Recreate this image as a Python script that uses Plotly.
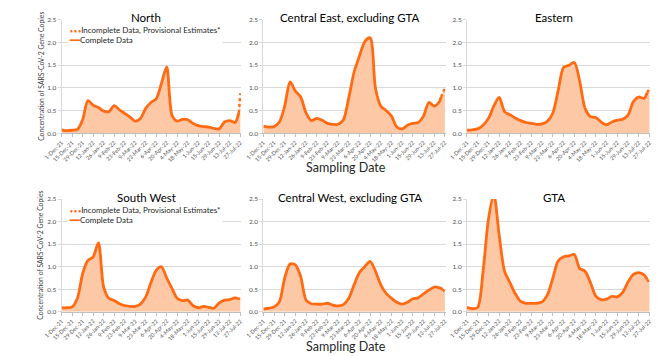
import plotly.graph_objects as go

# ---------------- data ----------------
week_dates = [
    "2021-12-01", "2021-12-08", "2021-12-15", "2021-12-22", "2021-12-29",
    "2022-01-05", "2022-01-12", "2022-01-19", "2022-01-26", "2022-02-02",
    "2022-02-09", "2022-02-16", "2022-02-23", "2022-03-02", "2022-03-09",
    "2022-03-16", "2022-03-23", "2022-03-30", "2022-04-06", "2022-04-13",
    "2022-04-20", "2022-04-27", "2022-05-04", "2022-05-11", "2022-05-18",
    "2022-05-25", "2022-06-01", "2022-06-08", "2022-06-15", "2022-06-22",
    "2022-06-29", "2022-07-06", "2022-07-13", "2022-07-20",
]

tick_dates = [
    "2021-12-01", "2021-12-15", "2021-12-29", "2022-01-12", "2022-01-26",
    "2022-02-09", "2022-02-23", "2022-03-09", "2022-03-23", "2022-04-06",
    "2022-04-20", "2022-05-04", "2022-05-18", "2022-06-01", "2022-06-15",
    "2022-06-29", "2022-07-13", "2022-07-27",
]
tick_labels = [
    "1-Dec-21", "15-Dec-21", "29-Dec-21", "12-Jan-22", "26-Jan-22",
    "9-Feb-22", "23-Feb-22", "9-Mar-22", "23-Mar-22", "6-Apr-22",
    "20-Apr-22", "4-May-22", "18-May-22", "1-Jun-22", "15-Jun-22",
    "29-Jun-22", "13-Jul-22", "27-Jul-22",
]

region_names = ["North", "Central East, excluding GTA", "Eastern",
                "South West", "Central West, excluding GTA", "GTA"]

north = [0.08, 0.06, 0.07, 0.09, 0.30, 0.72, 0.62, 0.57, 0.49, 0.48, 0.61, 0.52,
         0.44, 0.36, 0.27, 0.33, 0.55, 0.68, 0.76, 1.10, 1.46, 0.40, 0.27, 0.31,
         0.30, 0.22, 0.17, 0.15, 0.14, 0.11, 0.10, 0.25, 0.28, 0.24]
north_tail_dates = ["2022-07-25"]
north_tail = [0.45]
north_prov_dates = ["2022-07-25", "2022-07-26", "2022-07-27"]
north_prov = [0.45, 0.65, 0.88]

central_east = [0.16, 0.14, 0.15, 0.25, 0.60, 1.13, 0.93, 0.80, 0.45, 0.28, 0.33, 0.29,
                0.22, 0.20, 0.20, 0.30, 0.78, 1.35, 1.70, 2.02, 2.10, 1.00, 0.60, 0.50,
                0.38, 0.14, 0.10, 0.18, 0.22, 0.24, 0.38, 0.68, 0.60, 0.70]
central_east_tail_dates = ["2022-07-22"]
central_east_tail = [0.80]
central_east_prov_dates = ["2022-07-22", "2022-07-25", "2022-07-27"]
central_east_prov = [0.80, 0.92, 1.00]

eastern = [0.07, 0.08, 0.10, 0.18, 0.33, 0.60, 0.79, 0.48, 0.41, 0.34, 0.28, 0.24,
           0.22, 0.20, 0.21, 0.27, 0.45, 0.95, 1.45, 1.50, 1.56, 1.15, 0.55, 0.37,
           0.35, 0.25, 0.19, 0.25, 0.29, 0.31, 0.40, 0.70, 0.80, 0.77]
eastern_tail_dates = ["2022-07-24"]
eastern_tail = [0.90]
eastern_prov_dates = ["2022-07-24", "2022-07-27"]
eastern_prov = [0.90, 0.98]

south_west = [0.09, 0.09, 0.11, 0.30, 0.85, 1.14, 1.22, 1.53, 0.55, 0.30, 0.25, 0.18,
              0.14, 0.12, 0.12, 0.17, 0.33, 0.65, 0.92, 1.00, 0.75, 0.52, 0.30, 0.25,
              0.26, 0.14, 0.09, 0.12, 0.10, 0.08, 0.20, 0.26, 0.27, 0.31]
south_west_tail_dates = ["2022-07-25"]
south_west_tail = [0.29]
south_west_prov_dates = ["2022-07-25", "2022-07-27"]
south_west_prov = [0.29, 0.28]

central_west = [0.06, 0.08, 0.11, 0.22, 0.75, 1.06, 1.04, 0.78, 0.26, 0.18, 0.17, 0.17,
                0.19, 0.15, 0.13, 0.16, 0.30, 0.60, 0.87, 1.00, 1.12, 0.90, 0.60, 0.41,
                0.30, 0.21, 0.17, 0.21, 0.29, 0.31, 0.40, 0.48, 0.55, 0.53]
central_west_tail_dates = ["2022-07-24"]
central_west_tail = [0.50]
central_west_prov_dates = ["2022-07-24", "2022-07-27"]
central_west_prov = [0.50, 0.44]

gta = [0.10, 0.07, 0.10, 0.90, 2.05, 2.60, 1.70, 0.90, 0.65, 0.40, 0.23, 0.19,
       0.19, 0.19, 0.22, 0.38, 0.75, 1.13, 1.22, 1.24, 1.27, 0.96, 0.90, 0.65,
       0.35, 0.27, 0.28, 0.34, 0.33, 0.43, 0.66, 0.83, 0.87, 0.82]
gta_tail_dates = ["2022-07-24"]
gta_tail = [0.72]
gta_prov_dates = ["2022-07-24", "2022-07-27"]
gta_prov = [0.72, 0.63]

y_ticks = [0, 0.5, 1.0, 1.5, 2.0, 2.5]
y_tick_labels = ["0.0", "0.5", "1.0", "1.5", "2.0", "2.5"]

legend_incomplete = "Incomplete Data, Provisional Estimates*"
legend_complete = "Complete Data"
y_title = "Concentration of SARS-CoV-2 Gene Copies"
x_title = "Sampling Date"

# ---------------- styling / layout ----------------
LINE = "#FF6A13"
FILL = "#FCC8A6"
FONT = "Lato"
W, H = 660, 356
col_px = [(45, 230), (253, 441), (463, 652)]
row_px = [(16, 132), (199, 314)]

regions = [
    (north, north_tail_dates, north_tail, north_prov_dates, north_prov),
    (central_east, central_east_tail_dates, central_east_tail, central_east_prov_dates, central_east_prov),
    (eastern, eastern_tail_dates, eastern_tail, eastern_prov_dates, eastern_prov),
    (south_west, south_west_tail_dates, south_west_tail, south_west_prov_dates, south_west_prov),
    (central_west, central_west_tail_dates, central_west_tail, central_west_prov_dates, central_west_prov),
    (gta, gta_tail_dates, gta_tail, gta_prov_dates, gta_prov),
]

fig = go.Figure()
annotations = []

for i, (vals, tdates, tvals, pdates, pvals) in enumerate(regions):
    r, c = divmod(i, 3)
    n = i + 1
    xa = "x" if n == 1 else f"x{n}"
    ya = "y" if n == 1 else f"y{n}"
    xk = "xaxis" if n == 1 else f"xaxis{n}"
    yk = "yaxis" if n == 1 else f"yaxis{n}"

    comp_d = week_dates + tdates
    comp_v = vals + tvals
    all_d = comp_d + pdates[1:]
    all_v = comp_v + pvals[1:]

    fig.add_trace(go.Scatter(
        x=all_d, y=all_v, xaxis=xa, yaxis=ya, mode="lines",
        line=dict(width=0, shape="spline", smoothing=0.8, color=FILL),
        fill="tozeroy", fillcolor=FILL, hoverinfo="skip", showlegend=False))
    fig.add_trace(go.Scatter(
        x=pdates, y=pvals, xaxis=xa, yaxis=ya, mode="lines",
        line=dict(width=2.4, color=LINE, dash="dot", shape="spline"),
        name=legend_incomplete, showlegend=False))
    fig.add_trace(go.Scatter(
        x=comp_d, y=comp_v, xaxis=xa, yaxis=ya, mode="lines",
        line=dict(width=2.8, color=LINE, shape="spline", smoothing=0.8),
        name=legend_complete, showlegend=False))

    x0, x1 = col_px[c]
    y0, y1 = row_px[r]
    fig.layout[xk] = dict(
        domain=[x0 / W, x1 / W], anchor=ya, type="date",
        range=["2021-12-01", "2022-07-28"],
        tickmode="array", tickvals=tick_dates, ticktext=tick_labels,
        tickangle=-45, tickfont=dict(size=5.5, color="#505050", family=FONT),
        ticks="outside", ticklen=3, tickcolor="#BFBFBF",
        showline=True, linecolor="#BFBFBF", linewidth=1,
        showgrid=False, zeroline=False, fixedrange=True)
    fig.layout[yk] = dict(
        domain=[1 - y1 / H, 1 - y0 / H], anchor=xa, range=[0, 2.5],
        tickmode="array", tickvals=y_ticks, ticktext=y_tick_labels,
        tickfont=dict(size=6.5, color="#505050", family=FONT),
        ticks="outside", ticklen=3, tickcolor="#D9D9D9",
        showline=True, linecolor="#D9D9D9", linewidth=1,
        showgrid=True, gridcolor="#D9D9D9", gridwidth=1,
        zeroline=False, fixedrange=True)

    # panel title
    annotations.append(dict(
        text=region_names[i], x=((x0 + x1) / 2 - 5) / W, y=1 - (y0 - 2) / H,
        xref="paper", yref="paper", showarrow=False, xanchor="center",
        yanchor="middle", bgcolor="white", borderpad=0,
        font=dict(size=11.5, color="black", family=FONT)))

# legends in left-column panels (North, South West)
dot_glyph = f"<span style='color:{LINE};font-size:5px'><b>• • •</b></span>"
solid_glyph = f"<span style='color:{LINE}'><b>━━</b></span>"
legend_text = (f"{dot_glyph}{legend_incomplete}<br>"
               f"{solid_glyph}{legend_complete}")
for n, (y0, y1) in zip([1, 4], row_px):
    xa = "x" if n == 1 else f"x{n}"
    ya = "y" if n == 1 else f"y{n}"
    hgt = y1 - y0
    wid = col_px[0][1] - col_px[0][0]
    annotations.append(dict(
        text=legend_text, xref=f"{xa} domain", yref=f"{ya} domain",
        x=6 / wid, y=1 - 3.5 / hgt, xanchor="left", yanchor="top", align="left",
        showarrow=False, bgcolor="white", borderpad=1,
        font=dict(size=8, color="#262626", family=FONT)))

# axis titles
for (y0, y1) in row_px:
    annotations.append(dict(
        text=y_title, x=23 / W, y=1 - ((y0 + y1) / 2) / H, xref="paper", yref="paper",
        textangle=-90, showarrow=False, xanchor="center", yanchor="middle",
        font=dict(size=6.8, color="#404040", family=FONT)))
annotations.append(dict(text=x_title, x=338 / W, y=1 - 167 / H, xref="paper", yref="paper",
                        showarrow=False, xanchor="center", yanchor="middle",
                        font=dict(size=12.5, color="#262626", family=FONT)))
annotations.append(dict(text=x_title, x=338 / W, y=1 - 349 / H, xref="paper", yref="paper",
                        showarrow=False, xanchor="center", yanchor="middle",
                        font=dict(size=12.5, color="#262626", family=FONT)))

fig.update_layout(
    width=W, height=H, margin=dict(l=0, r=0, t=0, b=0),
    paper_bgcolor="white", plot_bgcolor="white",
    showlegend=False, annotations=annotations,
    font=dict(family=FONT))

fig.write_html(
    "out.html", config={"displayModeBar": False},
    post_script="document.body.style.margin='0';document.body.style.overflow='hidden';")
